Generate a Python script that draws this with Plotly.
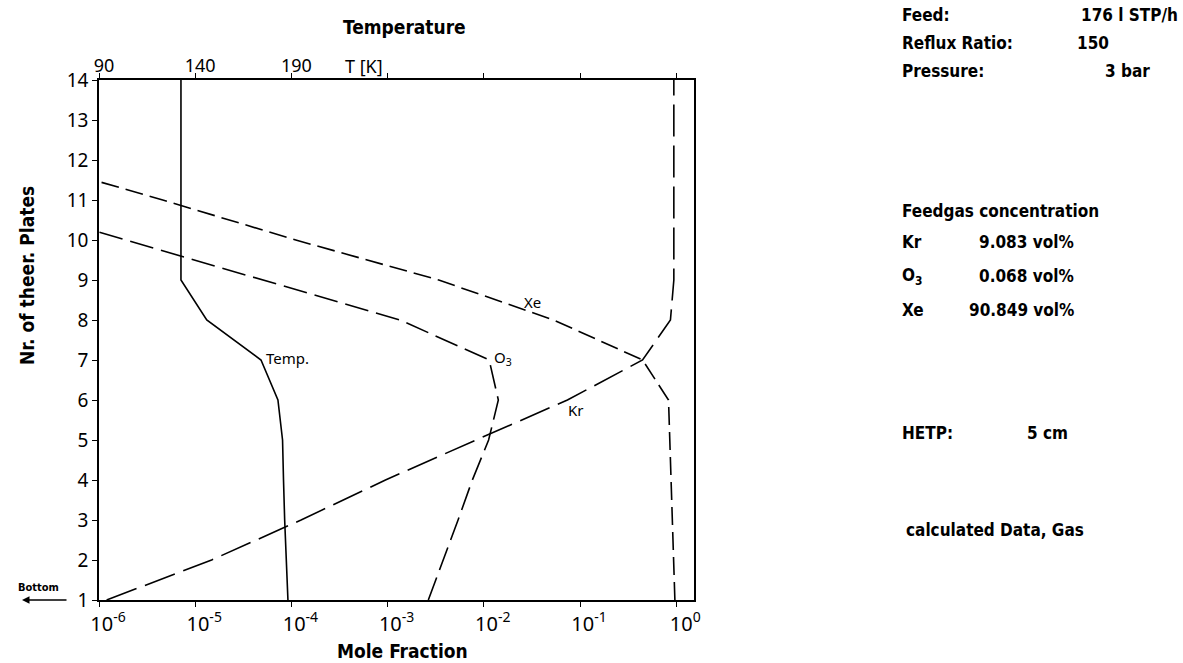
import plotly.graph_objects as go

# ---------------- data ----------------
plates = [1, 2, 3, 4, 5, 6, 7, 8, 9, 10, 11, 12, 13, 14]

# temperature profile (top axis, K)
temperature_K = [188.2, 187.3, 186.5, 185.9, 185.4, 183.0, 174.2, 146.0,
                 132.6, 132.6, 132.6, 132.6, 132.6, 132.6]

# mole fractions (bottom, log axis)
kr_fraction = [1.2e-6, 1.48e-5, 1.26e-4, 9.5e-4, 8.3e-3, 7.4e-2, 0.447, 0.871,
               0.945, 0.945, 0.945, 0.945, 0.945, 0.945]

xe_plates = [1, 2, 3, 4, 5, 6, 7, 8, 9, 10, 11, 12]
xe_fraction = [0.969, 0.94, 0.912, 0.883, 0.857, 0.832, 0.447, 0.0531,
               3.4e-3, 1.11e-4, 4.6e-6, 1.66e-7]

o3_plates = [1, 2, 3, 4, 5, 6, 7, 8, 9, 10, 11]
o3_fraction = [2.65e-3, 3.8e-3, 5.4e-3, 7.6e-3, 1.122e-2, 1.416e-2, 1.138e-2,
               1.35e-3, 5.2e-5, 2.1e-6, 7.1e-8]

mole_ticks = [1e-6, 1e-5, 1e-4, 1e-3, 1e-2, 1e-1, 1]
mole_ticktext = ["10<sup>-6</sup>", "10<sup>-5</sup>", "10<sup>-4</sup>",
                 "10<sup>-3</sup>", "10<sup>-2</sup>", "10<sup>-1</sup>",
                 "10<sup>0</sup>"]
temp_ticks = [90, 140, 190, 240, 290, 340, 390]
temp_ticktext = ["90", "140", "190", " ", " ", " ", " "]

info_rows = [
    ("Feed:", "176 l STP/h"),
    ("Reflux Ratio:", "150"),
    ("Pressure:", "3 bar"),
]
feed_rows = [("Kr", "9.083 vol%"), ("O<sub>3</sub>", "0.068 vol%"), ("Xe", "90.849 vol%")]

# ---------------- styling ----------------
W, H = 1183, 663
L, R, T, B = 99, 694, 80, 600          # plot area in pixels
BOLD = "Liberation Sans Narrow, DejaVu Sans Condensed, Roboto Condensed, Arial Narrow, Roboto, sans-serif"
THIN = "Noto Sans, DejaVu Sans, sans-serif"


def px(xp):
    return (xp - L) / (R - L)


def py(yp):
    return (B - yp) / (B - T)


fig = go.Figure()

line_w = 1.6
fig.add_trace(go.Scatter(x=kr_fraction, y=plates, mode="lines", name="Kr",
                         line=dict(color="black", width=line_w, dash="32px,9px")))
fig.add_trace(go.Scatter(x=xe_fraction, y=xe_plates, mode="lines", name="Xe",
                         line=dict(color="black", width=line_w, dash="18px,7px")))
fig.add_trace(go.Scatter(x=o3_fraction, y=o3_plates, mode="lines", name="O3",
                         line=dict(color="black", width=line_w, dash="24px,8px")))
fig.add_trace(go.Scatter(x=temperature_K, y=plates, mode="lines", name="Temp.",
                         xaxis="x2", yaxis="y",
                         line=dict(color="black", width=line_w)))

axis_common = dict(showgrid=False, zeroline=False, showline=True,
                   linecolor="black", linewidth=1.5, ticks="outside",
                   ticklen=5, tickwidth=1.3, tickcolor="black")

fig.update_layout(
    width=W, height=H,
    margin=dict(l=L, r=W - R, t=T, b=H - B, pad=0),
    paper_bgcolor="white", plot_bgcolor="white",
    showlegend=False,
    xaxis=dict(type="log", range=[-6, 0.185], tickvals=mole_ticks,
               ticktext=mole_ticktext, ticklabelshift=9,
               tickfont=dict(family=THIN, size=20, color="black"),
               **axis_common),
    xaxis2=dict(overlaying="x", side="top", anchor="y", range=[90, 399.25],
                tickvals=temp_ticks, ticktext=temp_ticktext, ticklabelshift=5,
                ticklabelstandoff=-6,
                tickfont=dict(family=THIN, size=18, color="black"),
                **axis_common),
    yaxis=dict(range=[1, 14], tickvals=plates, mirror=True,
               tickfont=dict(family=THIN, size=19, color="black"),
               **axis_common),
)


def paper_text(text, x, y, font, xanchor="center", yanchor="middle", **kw):
    return dict(text=text, x=px(x), y=py(y), xref="paper", yref="paper",
                xanchor=xanchor, yanchor=yanchor, showarrow=False, font=font, **kw)


title_font = dict(family=BOLD, size=19, color="black")
ann = []
# axis titles
ann.append(paper_text("<b>Temperature</b>", 405, 27, title_font))
ann.append(paper_text("<b>Mole Fraction</b>", 402, 651, title_font))
ann.append(paper_text("<b>Nr. of theer. Plates</b>", 27, 276,
                      dict(family=BOLD, size=19, color="black"), textangle=-90))
ann.append(dict(text="T [K]", x=227.7, y=py(66), xref="x2", yref="paper",
                xanchor="center", yanchor="middle", showarrow=False,
                font=dict(family=THIN, size=18, color="black")))
# bottom marker
ann.append(paper_text("<b>Bottom</b>", 38, 587, dict(family=BOLD, size=11, color="black")))
ann.append(dict(text="", x=px(22), y=py(600), xref="paper", yref="paper",
                ax=46, ay=0, axref="pixel", ayref="pixel", showarrow=True,
                arrowhead=2, arrowsize=1, arrowwidth=1.5, arrowcolor="black"))

# curve labels
lab_font = dict(family=THIN, size=15, color="black")
ann.append(dict(text="Xe", x=-1.499, y=8.46, xref="x", yref="y", showarrow=False, font=lab_font))
ann.append(dict(text="Kr", x=-1.052, y=5.75, xref="x", yref="y", showarrow=False, font=lab_font))
ann.append(dict(text="O<sub>3</sub>", x=-1.915, y=7.04, xref="x", yref="y", xanchor="left",
                showarrow=False, font=lab_font))
ann.append(dict(text="Temp.", x=188.2, y=7.06, xref="x2", yref="y", showarrow=False, font=lab_font))

# right-hand information block
info_font = dict(family=BOLD, size=17, color="black")
ann.append(paper_text("<b>" + info_rows[0][0] + "</b>", 900, 15, info_font, xanchor="left"))
ann.append(paper_text("<b>" + info_rows[0][1] + "</b>", 1180, 15, info_font, xanchor="right"))
ann.append(paper_text("<b>" + info_rows[1][0] + "</b>", 900, 43, info_font, xanchor="left"))
ann.append(paper_text("<b>" + info_rows[1][1] + "</b>", 1075, 43, info_font, xanchor="left"))
ann.append(paper_text("<b>" + info_rows[2][0] + "</b>", 900, 71, info_font, xanchor="left"))
ann.append(paper_text("<b>" + info_rows[2][1] + "</b>", 1152, 71, info_font, xanchor="right"))

ann.append(paper_text("<b>Feedgas concentration</b>", 900, 211, info_font, xanchor="left"))
for (name, val), ypix in zip(feed_rows, [242, 276, 310]):
    ann.append(paper_text("<b>" + name + "</b>", 900, ypix, info_font, xanchor="left"))
    ann.append(paper_text("<b>" + val + "</b>", 1076, ypix, info_font, xanchor="right"))

ann.append(paper_text("<b>HETP:</b>", 900, 433, info_font, xanchor="left"))
ann.append(paper_text("<b>5 cm</b>", 1025, 433, info_font, xanchor="left"))
ann.append(paper_text("<b>calculated Data, Gas</b>", 904, 530, info_font, xanchor="left"))

fig.update_layout(annotations=ann)

fig.write_html("out.html", config={"displayModeBar": False},
               post_script="document.body.style.margin='0px';")
